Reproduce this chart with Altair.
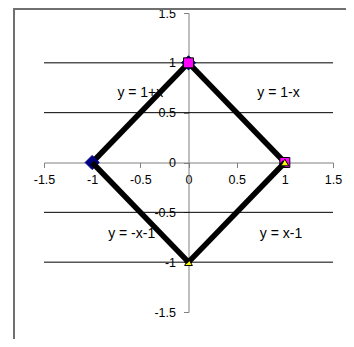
import altair as alt
import pandas as pd

# ---- data ----
ticks = [-1.5, -1, -0.5, 0, 0.5, 1, 1.5]
grid_y = [1, 0.5, -0.5, -1]

s1_x = [-1, 0]
s1_y = [0, 1]
s2_x = [0, 1]
s2_y = [1, 0]
s3_x = [1, 0]
s3_y = [0, -1]
s4_x = [0, -1]
s4_y = [-1, 0]

label_text = ["y = 1+x", "y = 1-x", "y = -x-1", "y = x-1"]
label_x = [-0.50, 0.935, -0.59, 0.96]
label_y = [0.70, 0.70, -0.72, -0.72]

W, H = 289, 299
PAD = {"left": 36, "top": 5, "right": 13, "bottom": 27}
FONT = "Liberation Sans"

xsc = alt.Scale(domain=[-1.5, 1.5], nice=False, zero=False)
ysc = alt.Scale(domain=[-1.5, 1.5], nice=False, zero=False)

xax = alt.Axis(values=ticks, labelExpr="'' + datum.value", title=None, grid=False,
               orient="bottom", offset=-H / 2, domainColor="#808080", tickColor="#808080",
               tickSize=5, labelPadding=6, labelFont=FONT, labelFontSize=12.5,
               labelColor="#000000", labelFlush=False, labelOverlap=False)
yax = alt.Axis(values=ticks, labelExpr="'' + datum.value", title=None, grid=False,
               orient="left", offset=-W / 2, domainColor="#808080", tickColor="#808080",
               tickSize=5, labelPadding=8, labelFont=FONT, labelFontSize=12.5,
               labelColor="#000000", labelFlush=False, labelOverlap=False)


def X(f):
    return alt.X(f, type="quantitative", scale=xsc, axis=xax)


def Y(f):
    return alt.Y(f, type="quantitative", scale=ysc, axis=yax)


grid_df = pd.DataFrame({"g": grid_y})
lab_df = pd.DataFrame({"t": label_text, "x": label_x, "y": label_y})

grid = alt.Chart(grid_df).mark_rule(color="#000000", strokeWidth=1).encode(y=Y("g"))

labels = alt.Chart(lab_df).mark_text(font=FONT, fontSize=14, color="#000000",
                                     align="center", baseline="middle").encode(
    x=X("x"), y=Y("y"), text="t:N")


def series(xs, ys, shape=None, fill=None, stroke=None, size=None):
    df = pd.DataFrame({"x": xs, "y": ys, "o": list(range(len(xs)))})
    base = alt.Chart(df)
    ln = base.mark_line(color="#000000", strokeWidth=5.5, strokeCap="butt").encode(
        x=X("x"), y=Y("y"), order="o:Q")
    if shape is None:
        return [ln]
    pt = base.mark_point(shape=shape, filled=True, fill=fill, stroke=stroke,
                         strokeWidth=1, size=size, opacity=1).encode(x=X("x"), y=Y("y"))
    return [ln, pt]


layers = [grid, labels]
layers += series(s1_x, s1_y, "diamond", "#000080", "#000080", 200)
layers += series(s2_x, s2_y, "square", "#FF00FF", "#000000", 100)
layers += series(s3_x, s3_y, "triangle-up", "#FFFF00", "#000000", 60)
layers += series(s4_x, s4_y)

border_l = alt.Chart(pd.DataFrame({"a": [0]})).mark_rule(color="#707070", strokeWidth=2).encode(
    x=alt.value(-30), y=alt.value(-5), y2=alt.value(H + 40))
border_t = alt.Chart(pd.DataFrame({"a": [0]})).mark_rule(color="#707070", strokeWidth=2).encode(
    x=alt.value(-31), x2=alt.value(W + 20), y=alt.value(-4))

chart = alt.layer(border_l, border_t, *layers).properties(
    width=W, height=H, padding=PAD, autosize=alt.AutoSizeParams(type="none"),
    background="#ffffff"
).configure_view(stroke=None)

chart.save("out.html", embed_options={"renderer": "svg", "actions": False})
